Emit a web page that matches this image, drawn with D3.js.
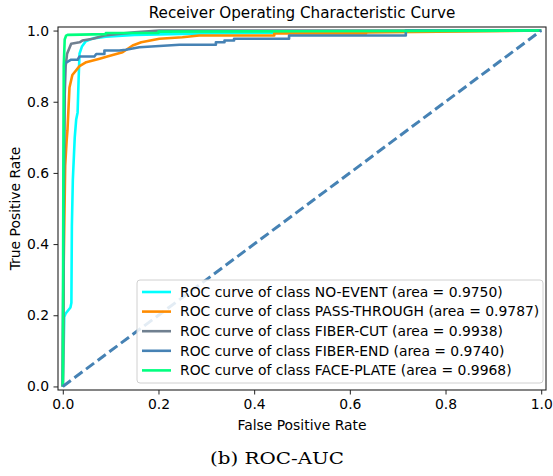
<!DOCTYPE html>
<meta charset="utf-8">
<style>
    html,
    body {
        margin: 0;
        background: #fff;
    }

    text {
        font-family: "DejaVu Sans", sans-serif;
        fill: #000;
    }

    .axis path,
    .axis line {
        stroke: #222;
    }

    .curve {
        fill: none;
        stroke-width: 2.6px;
        stroke-linejoin: round;
    }

    .caption {
        font-family: "DejaVu Serif", serif;
        font-size: 17.5px;
    }
</style>

<body>
    <script src="https://d3js.org/d3.v7.min.js"></script>
    <script>
        // values
        var classNames = ["NO-EVENT", "PASS-THROUGH", "FIBER-CUT", "FIBER-END", "FACE-PLATE"];
        var aucValues = ["0.9750", "0.9787", "0.9938", "0.9740", "0.9968"];
        var tickValues = [0, 0.2, 0.4, 0.6, 0.8, 1.0];

        var noEventFpr = [0, 0.002, 0.003, 0.006, 0.016, 0.018, 0.019, 0.021, 0.025, 0.028, 0.031, 0.033, 0.035, 0.04, 0.048, 0.063, 0.09, 0.15, 0.3, 0.5, 0.7, 1];
        var noEventTpr = [0, 0.12, 0.195, 0.205, 0.222, 0.235, 0.45, 0.58, 0.7, 0.75, 0.77, 0.86, 0.935, 0.955, 0.97, 0.978, 0.983, 0.988, 0.992, 0.995, 0.998, 1];

        var passFpr = [0, 0.002, 0.005, 0.008, 0.0098, 0.014, 0.02, 0.035, 0.049, 0.077, 0.093, 0.125, 0.146, 0.164, 0.202, 0.25, 0.285, 0.442, 0.442, 0.634, 0.634, 1];
        var passTpr = [0, 0.35, 0.62, 0.69, 0.72, 0.84, 0.875, 0.9, 0.911, 0.921, 0.927, 0.939, 0.958, 0.967, 0.977, 0.981, 0.986, 0.986, 0.992, 0.992, 0.995, 1];

        var fiberCutFpr = [0, 0.002, 0.004, 0.006, 0.009, 0.0175, 0.035, 0.041, 0.063, 0.087, 0.111, 0.15, 0.202, 1];
        var fiberCutTpr = [0, 0.5, 0.82, 0.9, 0.935, 0.963, 0.967, 0.972, 0.977, 0.986, 0.99, 0.995, 1, 1];

        var fiberEndFpr = [0, 0.002, 0.0035, 0.0175, 0.031, 0.035, 0.066, 0.07, 0.087, 0.087, 0.118, 0.132, 0.16, 0.244, 0.285, 0.32, 0.32, 0.338, 0.338, 0.358, 0.358, 0.473, 0.473, 0.717, 0.717, 1];
        var fiberEndTpr = [0, 0.6, 0.907, 0.918, 0.918, 0.927, 0.927, 0.934, 0.934, 0.944, 0.944, 0.946, 0.953, 0.96, 0.96, 0.96, 0.967, 0.967, 0.972, 0.972, 0.977, 0.977, 0.986, 0.986, 1, 1];

        var facePlateFpr = [0, 0.001, 0.002, 0.004, 0.007, 0.01, 0.09, 0.09, 0.2, 0.2, 0.5, 1];
        var facePlateTpr = [0, 0.5, 0.9, 0.975, 0.986, 0.988, 0.99, 0.993, 0.993, 0.997, 0.998, 1];

        var curveFpr = [noEventFpr, passFpr, fiberCutFpr, fiberEndFpr, facePlateFpr];
        var curveTpr = [noEventTpr, passTpr, fiberCutTpr, fiberEndTpr, facePlateTpr];

        var colors = ["#00ffff", "#ff8c00", "#708090", "#4682b4", "#00ff7f"];

        var width = 553,
            height = 476,
            margin = { top: 27, right: 7, bottom: 86, left: 58 };

        var x = d3.scaleLinear().domain([-0.01, 1.01]).range([margin.left, width - margin.right]);
        var y = d3.scaleLinear().domain([-0.01, 1.01]).range([height - margin.bottom, margin.top]);

        var svg = d3.select("body").append("svg")
            .attr("width", width)
            .attr("height", height);

        var plot = svg.append("g");

        var line = d3.line()
            .x(function (d) { return x(d[0]); })
            .y(function (d) { return y(d[1]); });

        classNames.forEach(function (name, i) {
            var pts = curveFpr[i].map(function (f, j) { return [f, curveTpr[i][j]]; });
            plot.append("path")
                .datum(pts)
                .attr("class", "curve")
                .attr("stroke", colors[i])
                .attr("d", line);
        });

        // chance diagonal
        plot.append("path")
            .datum([[0, 0], [1, 1]])
            .attr("fill", "none")
            .attr("stroke", "#4682b4")
            .attr("stroke-width", 3)
            .attr("stroke-dasharray", "10,4.5")
            .attr("d", line);

        // frame
        svg.append("rect")
            .attr("x", x(-0.01))
            .attr("y", y(1.01))
            .attr("width", x(1.01) - x(-0.01))
            .attr("height", y(-0.01) - y(1.01))
            .attr("fill", "none")
            .attr("stroke", "#222")
            .attr("stroke-width", 1.1);

        svg.append("g")
            .attr("class", "axis")
            .attr("transform", "translate(0," + y(-0.01) + ")")
            .call(d3.axisBottom(x).tickValues(tickValues).tickFormat(d3.format(".1f")).tickSize(4.5).tickPadding(5).tickSizeOuter(0))
            .call(function (g) { g.select(".domain").remove(); });

        svg.append("g")
            .attr("class", "axis")
            .attr("transform", "translate(" + x(-0.01) + ",0)")
            .call(d3.axisLeft(y).tickValues(tickValues).tickFormat(d3.format(".1f")).tickSize(4.5).tickPadding(4.5).tickSizeOuter(0))
            .call(function (g) { g.select(".domain").remove(); });

        svg.selectAll(".tick text")
            .style("font-family", "DejaVu Sans")
            .style("font-size", "13.9px")
            .attr("fill", "#000");

        // titles
        svg.append("text")
            .attr("x", (x(-0.01) + x(1.01)) / 2)
            .attr("y", 18)
            .attr("text-anchor", "middle")
            .style("font-size", "15.2px")
            .text("Receiver Operating Characteristic Curve");

        svg.append("text")
            .attr("x", (x(-0.01) + x(1.01)) / 2)
            .attr("y", 430)
            .attr("text-anchor", "middle")
            .style("font-size", "13.9px")
            .text("False Positive Rate");

        svg.append("text")
            .attr("transform", "translate(20," + (y(0.5)) + ") rotate(-90)")
            .attr("text-anchor", "middle")
            .style("font-size", "13.9px")
            .text("True Positive Rate");

        // legend
        var legend = svg.append("g").attr("transform", "translate(137,280)");
        legend.append("rect")
            .attr("width", 406)
            .attr("height", 103)
            .attr("rx", 3)
            .attr("fill", "#fff")
            .attr("fill-opacity", 0.85)
            .attr("stroke", "#d0d0d0");

        classNames.forEach(function (name, i) {
            var row = legend.append("g").attr("transform", "translate(0," + (12 + i * 19.6) + ")");
            row.append("line")
                .attr("x1", 5).attr("x2", 34)
                .attr("stroke", colors[i])
                .attr("stroke-width", 2.6);
            row.append("text")
                .attr("x", 43)
                .attr("dy", "0.35em")
                .style("font-size", "13.9px")
                .text("ROC curve of class " + name + " (area = " + aucValues[i] + ")");
        });

        svg.append("text")
            .attr("class", "caption")
            .attr("x", 277)
            .attr("y", 464)
            .attr("text-anchor", "middle")
            .attr("textLength", 134)
            .attr("lengthAdjust", "spacingAndGlyphs")
            .text("(b) ROC-AUC");
    </script>
</body>

</html>
